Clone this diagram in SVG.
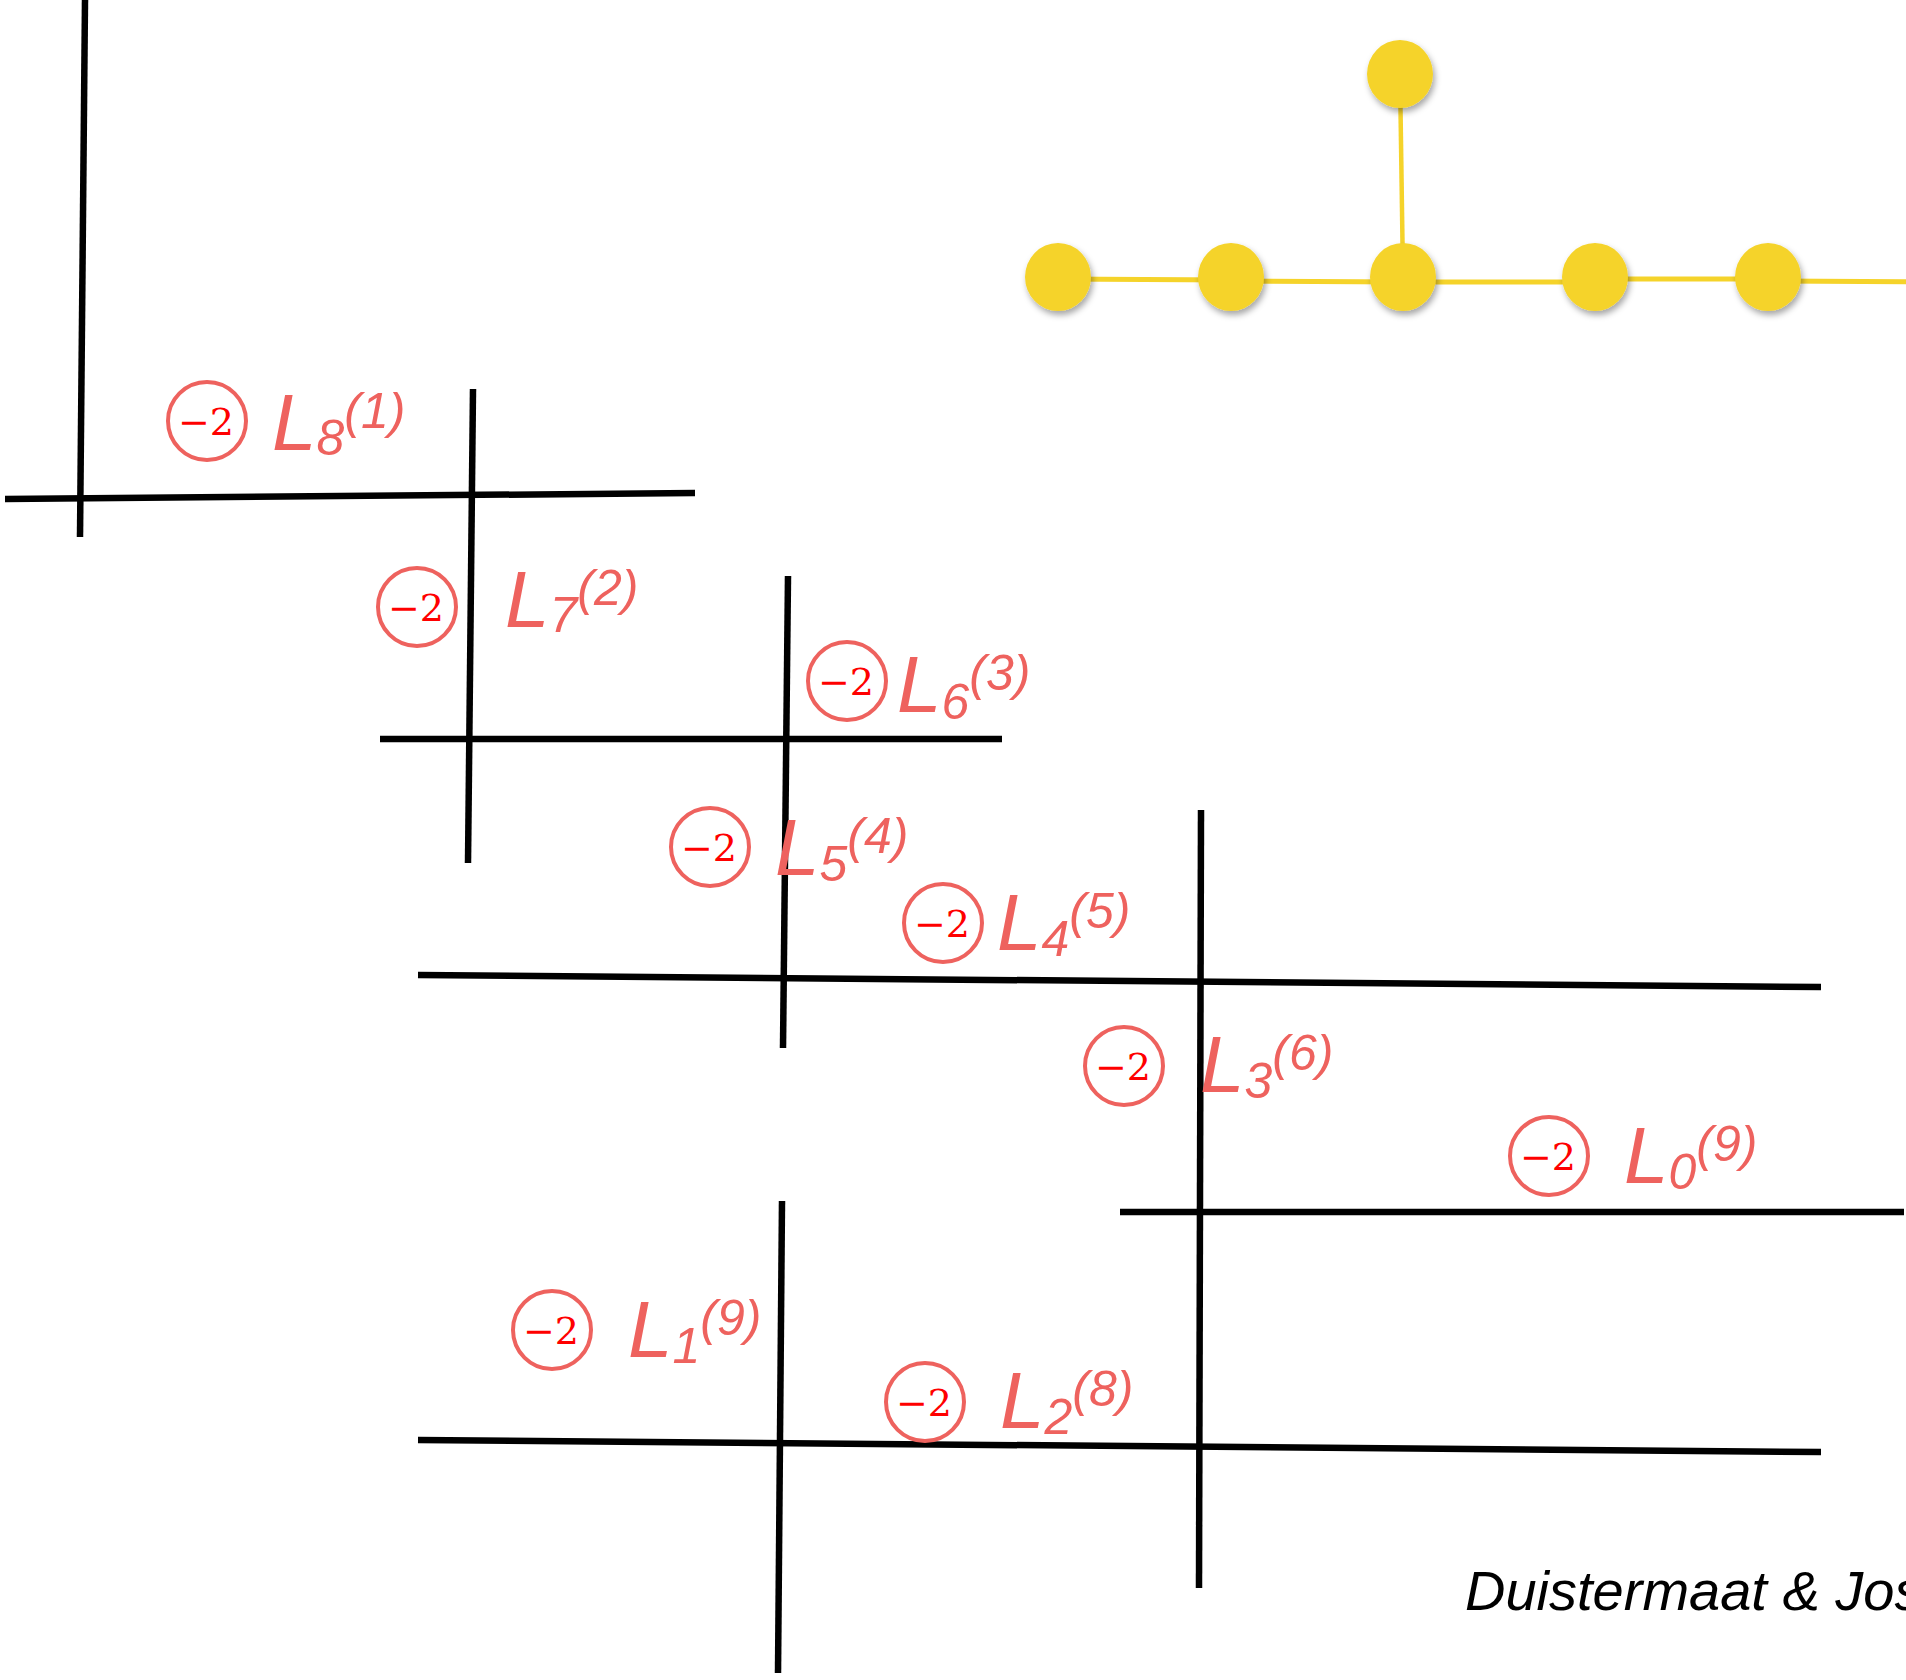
<svg xmlns="http://www.w3.org/2000/svg" width="1906" height="1680" viewBox="0 0 1906 1680">
<style>
.bl{stroke:#000;stroke-width:6.5;fill:none;stroke-linecap:butt}
.ye{stroke:#F5D32A;stroke-width:5;fill:none}
.yv{stroke:#F5D32A;stroke-width:4.5;fill:none}
.nd{fill:#F5D32A;filter:url(#sh)}
.ring{fill:none;stroke:#EE625E;stroke-width:4}
.m{font-family:"DejaVu Serif","Liberation Serif",serif;font-size:38px;fill:#FF0000;text-anchor:middle}
.L{font-family:"Liberation Sans",Arial,sans-serif;font-style:italic;font-size:80px;fill:#EE625E}
.s{font-size:50px}
.cap{font-family:"Liberation Sans",Arial,sans-serif;font-style:italic;font-size:56px;fill:#000}
</style>
<defs>
<filter id="sh" x="-30%" y="-30%" width="160%" height="170%">
<feDropShadow dx="2" dy="4" stdDeviation="3" flood-color="#000" flood-opacity="0.35"/>
</filter>
</defs>
<rect width="1906" height="1680" fill="#fff"/>
<g id="connectors">
<line class="bl" x1="85" y1="0" x2="80" y2="537"/>
<line class="bl" x1="5" y1="499" x2="695" y2="493"/>
<line class="bl" x1="473" y1="389" x2="468" y2="863"/>
<line class="bl" x1="380" y1="739" x2="1002" y2="739"/>
<line class="bl" x1="788" y1="576" x2="783" y2="1048"/>
<line class="bl" x1="418" y1="975" x2="1821" y2="987"/>
<line class="bl" x1="1201" y1="810" x2="1199" y2="1588"/>
<line class="bl" x1="1120" y1="1212" x2="1904" y2="1212"/>
<line class="bl" x1="782" y1="1201" x2="778" y2="1673"/>
<line class="bl" x1="418" y1="1440" x2="1821" y2="1452"/>
<line class="yv" x1="1400" y1="75" x2="1403" y2="277"/>
<line class="ye" x1="1058" y1="279" x2="1231" y2="280"/>
<line class="ye" x1="1231" y1="281" x2="1403" y2="282"/>
<line class="ye" x1="1403" y1="282" x2="1595" y2="282"/>
<line class="ye" x1="1595" y1="279" x2="1768" y2="279"/>
<line class="ye" x1="1768" y1="281" x2="1940" y2="282"/>
</g>
<g id="n1"><ellipse class="nd" cx="1058" cy="277" rx="33" ry="34"/></g>
<g id="n2"><ellipse class="nd" cx="1231" cy="277" rx="33" ry="34"/></g>
<g id="n3"><ellipse class="nd" cx="1403" cy="277" rx="33" ry="34"/></g>
<g id="n4"><ellipse class="nd" cx="1595" cy="277" rx="33" ry="34"/></g>
<g id="n5"><ellipse class="nd" cx="1768" cy="277" rx="33" ry="34"/></g>
<g id="n6"><ellipse class="nd" cx="1939" cy="277" rx="33" ry="34"/></g>
<g id="n7"><ellipse class="nd" cx="1400" cy="74" rx="33" ry="34"/></g>
<g id="L8"><circle class="ring" cx="207" cy="421" r="39"/><text class="m" x="206" y="435">−2</text><text class="L" x="272" y="450">L<tspan class="s" dy="5">8</tspan><tspan class="s" dy="-27">(1)</tspan></text></g>
<g id="L7"><circle class="ring" cx="417" cy="607" r="39"/><text class="m" x="416" y="621">−2</text><text class="L" x="505" y="627">L<tspan class="s" dy="5">7</tspan><tspan class="s" dy="-27">(2)</tspan></text></g>
<g id="L6"><circle class="ring" cx="847" cy="681" r="39"/><text class="m" x="846" y="695">−2</text><text class="L" x="897" y="712">L<tspan class="s" dy="7">6</tspan><tspan class="s" dy="-29">(3)</tspan></text></g>
<g id="L5"><circle class="ring" cx="710" cy="847" r="39"/><text class="m" x="709" y="861">−2</text><text class="L" x="775" y="875">L<tspan class="s" dy="6">5</tspan><tspan class="s" dy="-28">(4)</tspan></text></g>
<g id="L4"><circle class="ring" cx="943" cy="923" r="39"/><text class="m" x="942" y="937">−2</text><text class="L" x="997" y="950">L<tspan class="s" dy="6">4</tspan><tspan class="s" dy="-28">(5)</tspan></text></g>
<g id="L3"><circle class="ring" cx="1124" cy="1066" r="39"/><text class="m" x="1123" y="1080">−2</text><text class="L" x="1200" y="1092">L<tspan class="s" dy="6">3</tspan><tspan class="s" dy="-28">(6)</tspan></text></g>
<g id="L0"><circle class="ring" cx="1549" cy="1156" r="39"/><text class="m" x="1548" y="1170">−2</text><text class="L" x="1624" y="1183">L<tspan class="s" dy="6">0</tspan><tspan class="s" dy="-28">(9)</tspan></text></g>
<g id="L1"><circle class="ring" cx="552" cy="1330" r="39"/><text class="m" x="551" y="1344">−2</text><text class="L" x="628" y="1357">L<tspan class="s" dy="6">1</tspan><tspan class="s" dy="-28">(9)</tspan></text></g>
<g id="L2"><circle class="ring" cx="925" cy="1402" r="39"/><text class="m" x="924" y="1416">−2</text><text class="L" x="1000" y="1428">L<tspan class="s" dy="6">2</tspan><tspan class="s" dy="-28">(8)</tspan></text></g>
<text class="cap" x="1465" y="1610">Duistermaat &amp; Jos</text>
</svg>
